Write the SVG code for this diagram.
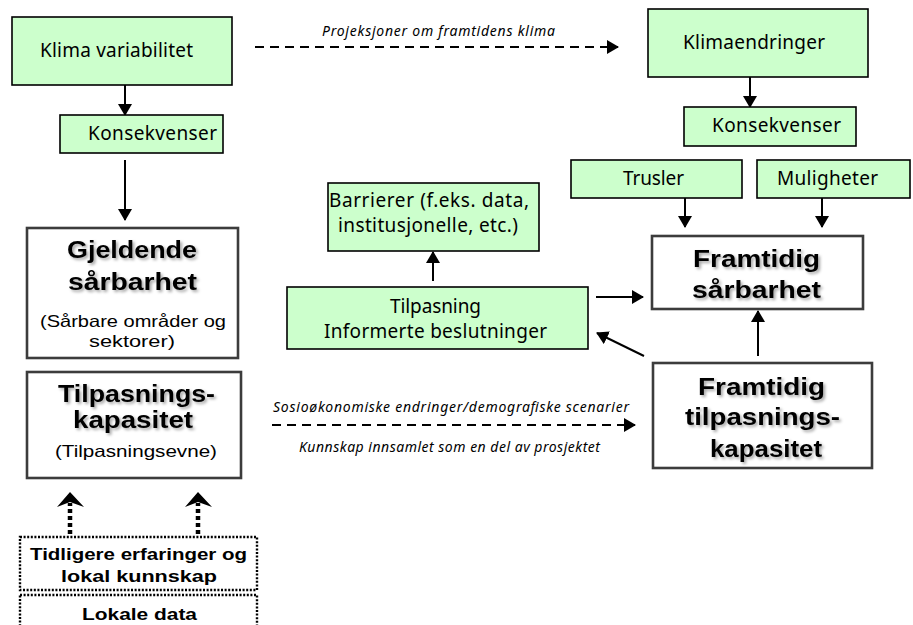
<svg xmlns="http://www.w3.org/2000/svg" width="913" height="625" viewBox="0 0 913 625">
<defs>
<style>
.g{fill:#ccffcc;stroke:#000;stroke-width:1.6}
.w{fill:#fff;stroke:#3c3c3c;stroke-width:2.6}
.d{fill:none;stroke:#000;stroke-width:2.4;stroke-dasharray:2 1.6}
.c{font-family:"Noto Sans","Open Sans",sans-serif;font-size:19px;fill:#000}
.b{font-family:"Liberation Sans",Arial,sans-serif;font-weight:bold;font-size:23px;fill:#000;filter:url(#sh)}
.r{font-family:"Liberation Sans",Arial,sans-serif;font-size:16.5px;fill:#000}
.sb{font-family:"Liberation Sans",Arial,sans-serif;font-weight:bold;font-size:17px;fill:#000}
.i{font-family:"Noto Sans","Open Sans",sans-serif;font-style:italic;font-size:14px;fill:#000}
.ln{fill:none;stroke:#000;stroke-width:2}
.ds{fill:none;stroke:#000;stroke-width:2.2;stroke-dasharray:9 6}
.dt{fill:none;stroke:#000;stroke-width:4.5;stroke-dasharray:4 3}
</style>
<marker id="ah" markerUnits="userSpaceOnUse" markerWidth="12" markerHeight="14" refX="11" refY="7" orient="auto">
<path d="M0,0 L12,7 L0,14 z" fill="#000"/>
</marker>
<filter id="sh" x="-10%" y="-30%" width="130%" height="170%">
<feDropShadow dx="2" dy="2" stdDeviation="1.4" flood-color="#000" flood-opacity="0.35"/>
</filter>
</defs>

<g id="connectors">
<line class="ln" x1="125" y1="85" x2="125" y2="115" marker-end="url(#ah)"/>
<line class="ln" x1="125" y1="160" x2="125" y2="220" marker-end="url(#ah)"/>
<line class="ds" x1="255" y1="47" x2="618" y2="47" marker-end="url(#ah)"/>
<text class="i" x="322" y="36" textLength="233">Projeksjoner om framtidens klima</text>
<line class="ln" x1="750" y1="77" x2="750" y2="107" marker-end="url(#ah)"/>
<line class="ln" x1="685" y1="198" x2="685" y2="227" marker-end="url(#ah)"/>
<line class="ln" x1="822" y1="198" x2="822" y2="227" marker-end="url(#ah)"/>
<line class="ln" x1="433" y1="281" x2="433" y2="252" marker-end="url(#ah)"/>
<line class="ln" x1="596" y1="297" x2="643" y2="297" marker-end="url(#ah)"/>
<line class="ln" x1="644" y1="356" x2="597" y2="333" marker-end="url(#ah)"/>
<line class="ln" x1="758" y1="356" x2="758" y2="311" marker-end="url(#ah)"/>
<line class="ds" x1="272" y1="425" x2="635" y2="425" marker-end="url(#ah)"/>
<text class="i" x="273" y="412" textLength="356">Sosioøkonomiske endringer/demografiske scenarier</text>
<text class="i" x="299" y="452" textLength="301">Kunnskap innsamlet som en del av prosjektet</text>
<line class="dt" x1="70" y1="534" x2="70" y2="503"/>
<path d="M70,492 L57,507 L70,502 L84,507 z" fill="#000"/>
<line class="dt" x1="198" y1="534" x2="198" y2="503"/>
<path d="M198,492 L185,507 L198,502 L212,507 z" fill="#000"/>
</g>

<g id="klima-variabilitet">
<rect class="g" x="12" y="17" width="220" height="68"/>
<text class="c" x="40" y="57" textLength="153">Klima variabilitet</text>
</g>
<g id="konsekvenser-venstre">
<rect class="g" x="60" y="115" width="163" height="38"/>
<text class="c" x="88" y="140" textLength="129">Konsekvenser</text>
</g>
<g id="gjeldende-sarbarhet">
<rect class="w" x="27" y="228" width="211" height="130"/>
<text class="b" x="67" y="258" textLength="130" lengthAdjust="spacingAndGlyphs">Gjeldende</text>
<text class="b" x="68" y="290" textLength="129" lengthAdjust="spacingAndGlyphs">sårbarhet</text>
<text class="r" x="40" y="327" textLength="186" lengthAdjust="spacingAndGlyphs">(Sårbare områder og</text>
<text class="r" x="89" y="347" textLength="86" lengthAdjust="spacingAndGlyphs">sektorer)</text>
</g>
<g id="tilpasningskapasitet">
<rect class="w" x="27" y="372" width="214" height="106"/>
<text class="b" x="58" y="402" textLength="157" lengthAdjust="spacingAndGlyphs">Tilpasnings-</text>
<text class="b" x="73" y="428" textLength="120" lengthAdjust="spacingAndGlyphs">kapasitet</text>
<text class="r" x="55" y="457" textLength="162" lengthAdjust="spacingAndGlyphs">(Tilpasningsevne)</text>
</g>
<g id="tidligere-erfaringer">
<rect class="d" x="20" y="537" width="237" height="53"/>
<text class="sb" x="30" y="560" textLength="217" lengthAdjust="spacingAndGlyphs">Tidligere erfaringer og</text>
<text class="sb" x="61" y="582" textLength="156" lengthAdjust="spacingAndGlyphs">lokal kunnskap</text>
</g>
<g id="lokale-data">
<rect class="d" x="20" y="595" width="237" height="45"/>
<text class="sb" x="82" y="620" textLength="115" lengthAdjust="spacingAndGlyphs">Lokale data</text>
</g>
<g id="klimaendringer">
<rect class="g" x="648" y="9" width="220" height="68"/>
<text class="c" x="683" y="49" textLength="142">Klimaendringer</text>
</g>
<g id="konsekvenser-hoyre">
<rect class="g" x="684" y="107" width="172" height="39"/>
<text class="c" x="712" y="132" textLength="129">Konsekvenser</text>
</g>
<g id="trusler">
<rect class="g" x="571" y="160" width="171" height="38"/>
<text class="c" x="623" y="185" textLength="61">Trusler</text>
</g>
<g id="muligheter">
<rect class="g" x="757" y="160" width="153" height="38"/>
<text class="c" x="777" y="185" textLength="101">Muligheter</text>
</g>
<g id="barrierer">
<rect class="g" x="328" y="183" width="211" height="68"/>
<text class="c" x="329" y="207" textLength="200">Barrierer (f.eks. data,</text>
<text class="c" x="338" y="232" textLength="180">institusjonelle, etc.)</text>
</g>
<g id="tilpasning">
<rect class="g" x="287" y="287" width="301" height="62"/>
<text class="c" x="390" y="313" textLength="91">Tilpasning</text>
<text class="c" x="324" y="338" textLength="223">Informerte beslutninger</text>
</g>
<g id="framtidig-sarbarhet">
<rect class="w" x="652" y="236" width="211" height="73"/>
<text class="b" x="693" y="267" textLength="127" lengthAdjust="spacingAndGlyphs">Framtidig</text>
<text class="b" x="692" y="298" textLength="129" lengthAdjust="spacingAndGlyphs">sårbarhet</text>
</g>
<g id="framtidig-tilpasningskapasitet">
<rect class="w" x="653" y="363" width="219" height="105"/>
<text class="b" x="698" y="395" textLength="127" lengthAdjust="spacingAndGlyphs">Framtidig</text>
<text class="b" x="685" y="425" textLength="155" lengthAdjust="spacingAndGlyphs">tilpasnings-</text>
<text class="b" x="710" y="457" textLength="112" lengthAdjust="spacingAndGlyphs">kapasitet</text>
</g>
</svg>
